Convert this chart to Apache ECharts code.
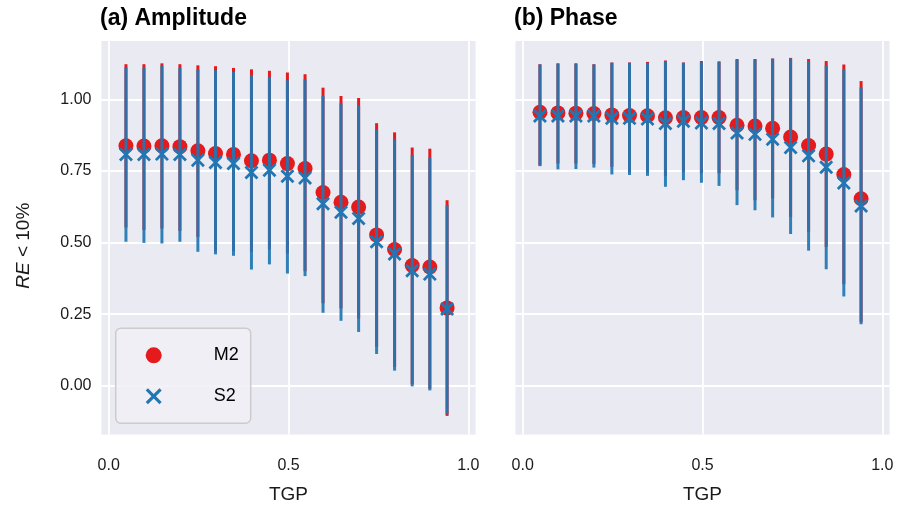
<!DOCTYPE html>
<html>
<head>
<meta charset="utf-8">
<script src="https://cdn.jsdelivr.net/npm/echarts@6/dist/echarts.min.js"></script>
<style>
html,body{margin:0;padding:0;background:#fff;}
#chart{width:899px;height:505px;}
</style>
</head>
<body>
<div id="chart"></div>
<script>
// ---- data ----
const tgp = [0.048, 0.098, 0.148, 0.198, 0.248, 0.297, 0.347, 0.397, 0.447, 0.497, 0.546, 0.596, 0.646, 0.695, 0.745, 0.795, 0.844, 0.893, 0.941];

const ampM2   = [0.838, 0.837, 0.838, 0.835, 0.821, 0.811, 0.808, 0.786, 0.788, 0.776, 0.759, 0.675, 0.641, 0.624, 0.527, 0.476, 0.420, 0.415, 0.272];
const ampM2Lo = [0.553, 0.544, 0.549, 0.541, 0.520, 0.470, 0.470, 0.468, 0.476, 0.462, 0.400, 0.288, 0.270, 0.235, 0.136, 0.066, 0.005, -0.010, -0.105];
const ampM2Hi = [1.123, 1.123, 1.126, 1.123, 1.119, 1.116, 1.110, 1.105, 1.100, 1.094, 1.088, 1.041, 1.012, 1.005, 0.917, 0.885, 0.832, 0.828, 0.648];
const ampS2   = [0.808, 0.808, 0.809, 0.808, 0.788, 0.780, 0.776, 0.745, 0.753, 0.732, 0.726, 0.636, 0.606, 0.584, 0.503, 0.460, 0.402, 0.390, 0.268];
const ampS2Lo = [0.503, 0.499, 0.497, 0.503, 0.468, 0.459, 0.454, 0.406, 0.424, 0.392, 0.383, 0.255, 0.227, 0.188, 0.111, 0.053, -0.002, -0.016, -0.099];
const ampS2Hi = [1.112, 1.112, 1.117, 1.110, 1.105, 1.102, 1.096, 1.085, 1.079, 1.067, 1.070, 1.012, 0.986, 0.978, 0.895, 0.861, 0.806, 0.796, 0.631];

const phM2   = [0.955, 0.953, 0.952, 0.951, 0.946, 0.944, 0.943, 0.936, 0.937, 0.937, 0.937, 0.910, 0.907, 0.899, 0.869, 0.839, 0.809, 0.738, 0.653];
const phM2Lo = [0.770, 0.776, 0.776, 0.775, 0.765, 0.745, 0.745, 0.733, 0.747, 0.742, 0.742, 0.683, 0.648, 0.654, 0.590, 0.538, 0.485, 0.355, 0.222];
const phM2Hi = [1.123, 1.126, 1.126, 1.123, 1.129, 1.129, 1.131, 1.136, 1.129, 1.134, 1.133, 1.141, 1.141, 1.143, 1.145, 1.141, 1.134, 1.122, 1.064];
const phS2   = [0.942, 0.942, 0.942, 0.942, 0.934, 0.934, 0.932, 0.916, 0.924, 0.918, 0.916, 0.883, 0.878, 0.861, 0.832, 0.803, 0.763, 0.708, 0.628];
const phS2Lo = [0.767, 0.756, 0.757, 0.762, 0.738, 0.736, 0.733, 0.695, 0.718, 0.709, 0.698, 0.631, 0.613, 0.588, 0.530, 0.472, 0.407, 0.312, 0.215];
const phS2Hi = [1.122, 1.125, 1.125, 1.122, 1.128, 1.128, 1.128, 1.134, 1.128, 1.130, 1.131, 1.139, 1.140, 1.142, 1.143, 1.134, 1.120, 1.105, 1.042];

const yTicks = [0, 0.25, 0.5, 0.75, 1.0];
const xTicks = [0, 0.5, 1.0];
const titles = ['(a) Amplitude', '(b) Phase'];
const seriesNames = ['M2', 'S2'];

// ---- styling ----
const RED = '#e41a1c';
const BLUE = '#2177b4';
const FONT = '"Liberation Sans", Arial, sans-serif';
const XPATH = 'path://M14,0L50,36L86,0L100,14L64,50L100,86L86,100L50,64L14,100L0,86L36,50L0,14Z';

function errSeries(name, lo, hi, color, opacity, axisIdx, z) {
  return {
    name: name, type: 'custom', xAxisIndex: axisIdx, yAxisIndex: axisIdx, z: z,
    silent: true,
    data: tgp.map((x, i) => [x, lo[i], hi[i]]),
    encode: { x: 0, y: [1, 2] },
    renderItem: function (params, api) {
      const p1 = api.coord([api.value(0), api.value(1)]);
      const p2 = api.coord([api.value(0), api.value(2)]);
      return {
        type: 'line',
        shape: { x1: p1[0], y1: p1[1], x2: p2[0], y2: p2[1] },
        style: { stroke: color, lineWidth: 3, opacity: opacity }
      };
    }
  };
}
function markSeries(name, vals, symbol, color, size, axisIdx, z) {
  return {
    name: name, type: 'scatter', xAxisIndex: axisIdx, yAxisIndex: axisIdx, z: z,
    symbol: symbol, symbolSize: size,
    itemStyle: { color: color, opacity: 1 },
    data: tgp.map((x, i) => [x, vals[i]])
  };
}

function xAxis(idx) {
  return {
    type: 'value', gridIndex: idx, min: -0.02, max: 1.02,
    name: 'TGP', nameLocation: 'middle', nameGap: 51,
    nameTextStyle: { fontFamily: FONT, fontSize: 19, color: '#1a1a1a' },
    axisLine: { show: false },
    axisTick: { show: false, customValues: xTicks },
    axisLabel: { customValues: xTicks, formatter: v => v.toFixed(1), margin: 23,
                 fontFamily: FONT, fontSize: 16, color: '#1a1a1a' },
    splitLine: { show: true, lineStyle: { color: '#ffffff', width: 1.8 } }
  };
}
function yAxis(idx) {
  const a = {
    type: 'value', gridIndex: idx, min: -0.17, max: 1.204,
    axisLine: { show: false },
    axisTick: { show: false, customValues: yTicks },
    axisLabel: { show: idx === 0, customValues: yTicks, formatter: v => v.toFixed(2), margin: 10,
                 fontFamily: FONT, fontSize: 16, color: '#1a1a1a' },
    splitLine: { show: true, lineStyle: { color: '#ffffff', width: 1.8 } }
  };
  if (idx === 0) {
    a.name = '{i|RE} < 10%';
    a.nameLocation = 'middle';
    a.nameGap = 68;
    a.nameTextStyle = { fontFamily: FONT, fontSize: 19, color: '#1a1a1a', padding: [0, 16, 0, 0],
      rich: { i: { fontFamily: FONT, fontSize: 19, fontStyle: 'italic', color: '#1a1a1a' } } };
  }
  return a;
}

const chart = echarts.init(document.getElementById('chart'), null, { renderer: 'canvas' });
chart.setOption({
  backgroundColor: '#ffffff',
  animation: false,
  title: [
    { text: titles[0], left: 100, top: 7, padding: 0, textStyle: { fontFamily: FONT, fontSize: 23, fontWeight: 'bold', color: '#000' } },
    { text: titles[1], left: 514, top: 7, padding: 0, textStyle: { fontFamily: FONT, fontSize: 23, fontWeight: 'bold', color: '#000' } }
  ],
  grid: [
    { left: 101.5, top: 41, width: 374, height: 393.5, show: true, backgroundColor: '#EAEAF2', borderWidth: 0,
      containLabel: false, outerBoundsMode: 'none' },
    { left: 515.5, top: 41, width: 374, height: 393.5, show: true, backgroundColor: '#EAEAF2', borderWidth: 0,
      containLabel: false, outerBoundsMode: 'none' }
  ],
  xAxis: [xAxis(0), xAxis(1)],
  yAxis: [yAxis(0), yAxis(1)],
  legend: {
    data: seriesNames, orient: 'vertical', left: 115.7, top: 328.3,
    itemWidth: 24, itemHeight: 16, itemGap: 23,
    padding: [18, 12, 18, 30],
    backgroundColor: 'rgba(240,240,246,0.85)', borderColor: '#cccccc', borderWidth: 1.5, borderRadius: 5,
    textStyle: { fontFamily: FONT, fontSize: 18, color: '#000', padding: [0, 0, 0, 43] }
  },
  series: [
    errSeries('M2 err a', ampM2Lo, ampM2Hi, RED, 1, 0, 2),
    markSeries(seriesNames[0], ampM2, 'circle', RED, 15, 0, 3),
    errSeries('S2 err a', ampS2Lo, ampS2Hi, BLUE, 0.93, 0, 4),
    markSeries(seriesNames[1], ampS2, XPATH, BLUE, 14, 0, 5),
    errSeries('M2 err b', phM2Lo, phM2Hi, RED, 1, 1, 2),
    markSeries(seriesNames[0], phM2, 'circle', RED, 15, 1, 3),
    errSeries('S2 err b', phS2Lo, phS2Hi, BLUE, 0.93, 1, 4),
    markSeries(seriesNames[1], phS2, XPATH, BLUE, 14, 1, 5)
  ]
});
</script>
</body>
</html>
